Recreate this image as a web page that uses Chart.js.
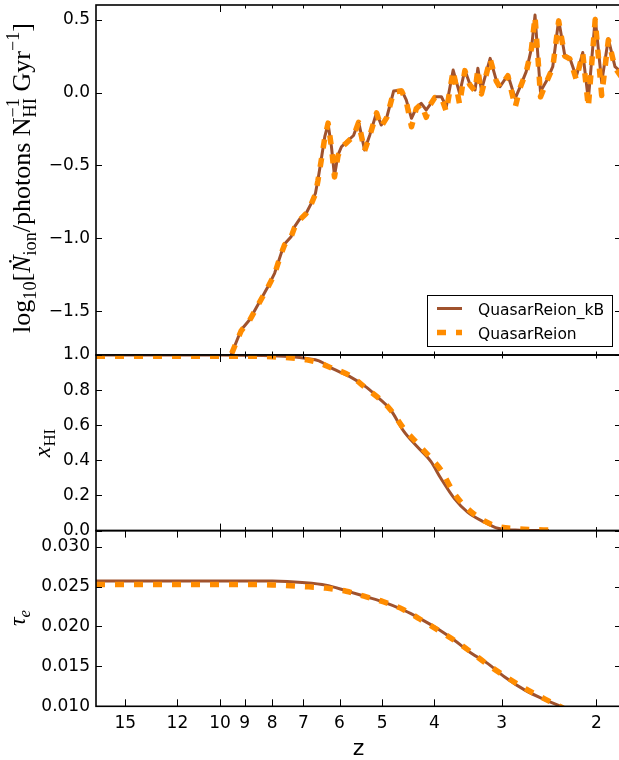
<!DOCTYPE html>
<html><head><meta charset="utf-8">
<script src="https://cdn.jsdelivr.net/npm/chart.js@4.4.1/dist/chart.umd.min.js"></script>
<style>
html,body{margin:0;padding:0;background:#fff;overflow:hidden;}
#wrap{position:relative;width:619px;height:760px;overflow:hidden;background:#fff;}
canvas{position:absolute;left:0;top:0;}
</style></head><body>
<div id="wrap">
<canvas id="c1" width="625" height="760"></canvas>
<canvas id="c2" width="625" height="760"></canvas>
<canvas id="c3" width="625" height="760"></canvas>
</div>
<script>
// ---------------- data ----------------
const seriesNames = ['QuasarReion_kB', 'QuasarReion'];
const zTickLabels = [15, 12, 10, 9, 8, 7, 6, 5, 4, 3, 2];
const zLogMajor = [10];
const zLogMinor = [9, 8, 7, 6, 5, 4, 3, 2];
const nionTicks = [-1.5, -1.0, -0.5, 0.0, 0.5];
const xhiTicks = [0.0, 0.2, 0.4, 0.6, 0.8, 1.0];
const tauTicks = [0.010, 0.015, 0.020, 0.025, 0.030];

const zNion = [9.8, 9.54, 9.14, 8.82, 8.51, 8.15, 7.92, 7.70, 7.59, 7.38,
  7.27, 7.12, 6.92, 6.77, 6.65, 6.58, 6.49, 6.39, 6.30, 6.21,
  6.13, 6.04, 5.95, 5.82, 5.65, 5.53, 5.39, 5.27, 5.12, 5.02,
  4.90, 4.76, 4.60, 4.51, 4.41, 4.32, 4.23, 4.14, 4.08, 3.99,
  3.88, 3.80, 3.69, 3.59, 3.51, 3.44, 3.36, 3.32, 3.27, 3.15,
  3.07, 3.02, 2.92, 2.83, 2.77, 2.70, 2.64, 2.60, 2.56, 2.54,
  2.47, 2.41, 2.35, 2.29, 2.24, 2.18, 2.12, 2.07, 2.01, 1.955,
  1.90, 1.847, 1.80];
const nionKB = [-1.91, -1.80, -1.629, -1.560, -1.457, -1.332, -1.240, -1.103, -1.039, -0.989,
  -0.920, -0.870, -0.828, -0.760, -0.691, -0.600, -0.463, -0.303, -0.216, -0.372,
  -0.573, -0.429, -0.372, -0.339, -0.295, -0.200, -0.394, -0.291, -0.137, -0.223,
  -0.168, 0.010, 0.017, -0.051, -0.177, -0.106, -0.074, -0.120, -0.086, -0.029,
  -0.029, -0.097, 0.154, -0.006, 0.154, 0.063, 0.017, 0.166, 0.017, 0.234,
  0.086, 0.040, 0.120, -0.040, 0.040, 0.143, 0.303, 0.531, 0.177, 0.006,
  0.086, 0.177, 0.497, 0.257, 0.235, 0.108, 0.274, -0.051, 0.509, 0.070,
  0.368, 0.177, 0.141];
const nionQR = [-1.91, -1.80, -1.635, -1.565, -1.460, -1.335, -1.245, -1.105, -1.045, -0.990,
  -0.925, -0.875, -0.830, -0.765, -0.695, -0.605, -0.470, -0.310, -0.210, -0.375,
  -0.580, -0.435, -0.375, -0.345, -0.300, -0.205, -0.400, -0.295, -0.140, -0.235,
  -0.170, 0.005, 0.010, -0.060, -0.235, -0.110, -0.080, -0.170, -0.090, -0.035,
  -0.035, -0.130, 0.150, -0.080, 0.150, 0.055, 0.010, 0.160, -0.010, 0.230,
  0.080, 0.035, 0.115, -0.100, 0.035, 0.140, 0.300, 0.520, 0.170, -0.030,
  0.080, 0.170, 0.490, 0.250, 0.230, 0.090, 0.270, -0.100, 0.500, -0.020,
  0.360, 0.170, 0.110];

const zXHI = [17, 12, 10, 9, 8, 7.35, 6.9, 6.55, 6.18, 5.75,
  5.35, 5.05, 4.83, 4.56, 4.31, 4.06, 3.89, 3.67, 3.47, 3.23,
  3.05, 2.83, 2.65, 2.45];
const xhiKB = [1.0, 1.0, 1.0, 0.999, 0.996, 0.99, 0.98, 0.967, 0.922, 0.878,
  0.817, 0.749, 0.691, 0.567, 0.48, 0.394, 0.298, 0.182, 0.105, 0.048,
  0.013, 0.003, 0.001, 0.0];
const xhiQR = [0.993, 0.993, 0.993, 0.993, 0.99, 0.983, 0.972, 0.955, 0.924, 0.884,
  0.81, 0.749, 0.69, 0.582, 0.50, 0.413, 0.346, 0.21, 0.125, 0.055,
  0.024, 0.011, 0.006, 0.003];

const zTau = [17, 12, 10, 9, 8, 7.04, 6.36, 5.83, 5.35, 4.98,
  4.56, 4.25, 3.95, 3.67, 3.42, 3.18, 2.96, 2.71, 2.49, 2.31, 2.2];
const tauKB = [0.0257, 0.0257, 0.0257, 0.0257, 0.02568, 0.0255, 0.02517, 0.02446, 0.02371, 0.02308,
  0.02204, 0.02098, 0.01973, 0.01826, 0.01668, 0.01534, 0.01366, 0.01199, 0.01081, 0.0099, 0.0092];
const tauQR = [0.02525, 0.02525, 0.02525, 0.02525, 0.0252, 0.0250, 0.0248, 0.0244, 0.0237, 0.0231,
  0.0221, 0.0209, 0.0196, 0.01826, 0.0168, 0.0152, 0.0138, 0.0122, 0.0109, 0.0098, 0.0091];

// ---------------- styling ----------------
const BROWN = '#a0522d', ORANGE = '#ff8c00';
const TICKFONT = {family: 'DejaVu Sans', size: 17};
const CANVAS_H = 760;

function fmtFixed(d) {
  return v => v.toFixed(d).replace('-', '\u2212');
}

const frameTicks = {
  id: 'frameTicks',
  afterDatasetsDraw(chart, args, o) {
    const {ctx, chartArea: a, scales} = chart;
    const x = scales.x, y = scales.y;
    ctx.save();
    ctx.strokeStyle = '#000';
    ctx.lineWidth = 1;
    ctx.beginPath();
    for (const v of o.yTicks) {
      const py = Math.round(y.getPixelForValue(v)) + 0.5;
      ctx.moveTo(a.left, py); ctx.lineTo(a.left + 6, py);
      ctx.moveTo(a.right, py); ctx.lineTo(a.right - 6, py);
    }
    const xt = (vals, len) => {
      for (const v of vals) {
        const px = Math.round(x.getPixelForValue(v)) + 0.5;
        ctx.moveTo(px, a.top); ctx.lineTo(px, a.top + len);
        ctx.moveTo(px, a.bottom); ctx.lineTo(px, a.bottom - len);
      }
    };
    xt(o.xMajor, 7);
    xt(o.xMinor, 3.5);
    ctx.stroke();
    ctx.lineWidth = 1.6;
    ctx.strokeRect(a.left, a.top, a.right - a.left, a.bottom - a.top);
    ctx.restore();
  }
};

function drawRich(ctx, parts, bx, cy, size, family) {
  const fontFor = (p, s) => (p.it ? 'italic ' : '') + s + 'px "' + family + '"';
  const items = [];
  let W = 0;
  for (const p of parts) {
    if (p.stack) {
      const s = size * 0.7;
      let w = 0;
      for (const q of p.stack) { ctx.font = fontFor(q, s); w = Math.max(w, ctx.measureText(q.t).width); }
      items.push({stack: p.stack, x: W, s});
      W += w;
    } else {
      const s = (p.sub || p.sup) ? size * 0.7 : size;
      ctx.font = fontFor(p, s);
      const w = ctx.measureText(p.t).width;
      items.push({p, x: W, s});
      W += w;
    }
  }
  ctx.save();
  ctx.translate(bx, cy);
  ctx.rotate(-Math.PI / 2);
  ctx.fillStyle = '#000';
  ctx.textBaseline = 'alphabetic';
  ctx.textAlign = 'left';
  const x0 = -W / 2;
  for (const it of items) {
    if (it.stack) {
      ctx.font = fontFor(it.stack[0], it.s); ctx.fillText(it.stack[0].t, x0 + it.x, -size * 0.42);
      ctx.font = fontFor(it.stack[1], it.s); ctx.fillText(it.stack[1].t, x0 + it.x, size * 0.22);
    } else {
      const dy = it.p.sub ? size * 0.22 : (it.p.sup ? -size * 0.42 : 0);
      ctx.font = fontFor(it.p, it.s);
      ctx.fillText(it.p.t, x0 + it.x, dy);
    }
  }
  ctx.restore();
}

const yTitle = {
  id: 'yTitle',
  afterDraw(chart, args, o) {
    drawRich(chart.ctx, o.parts, o.x, o.y, o.size, o.family);
  }
};

const legendBox = {
  id: 'legendBox',
  afterDraw(chart, args, o) {
    if (!o.show) return;
    const ctx = chart.ctx;
    ctx.save();
    ctx.fillStyle = '#fff';
    ctx.fillRect(427.5, 295.5, 185, 51);
    ctx.strokeStyle = '#000';
    ctx.lineWidth = 1;
    ctx.strokeRect(427.5, 295.5, 185, 51);
    const ds = chart.data.datasets;
    const rows = [{d: ds[0], y: 308.5}, {d: ds[1], y: 332.5}];
    for (const r of rows) {
      ctx.beginPath();
      ctx.strokeStyle = r.d.borderColor;
      ctx.lineWidth = r.d.borderWidth;
      ctx.setLineDash(r.d.borderDash || []);
      ctx.lineCap = 'butt';
      ctx.moveTo(437, r.y); ctx.lineTo(462, r.y);
      ctx.stroke();
      ctx.setLineDash([]);
      ctx.fillStyle = '#000';
      ctx.font = '15.5px "DejaVu Sans"';
      ctx.textBaseline = 'alphabetic';
      ctx.fillText(r.d.label, 478, r.y + 6);
    }
    ctx.restore();
  }
};

function makePanel(id, cfg) {
  const mk = (arr) => cfg.z.map((z, i) => ({x: z, y: arr[i]}));
  const common = {pointRadius: 0, fill: false, clip: 0,
    cubicInterpolationMode: cfg.smooth ? 'monotone' : 'default', tension: 0,
    borderJoinStyle: 'round'};
  return new Chart(document.getElementById(id), {
    type: 'line',
    data: {
      datasets: [
        Object.assign({label: seriesNames[0], data: mk(cfg.kb), borderColor: BROWN, borderWidth: 3, order: 2}, common),
        Object.assign({label: seriesNames[1], data: mk(cfg.qr), borderColor: ORANGE, borderWidth: 5.5,
          borderDash: [9, 10], borderCapStyle: 'butt', order: 1}, common)
      ]
    },
    options: {
      responsive: false, animation: false, devicePixelRatio: 1,
      layout: {padding: {top: cfg.top, bottom: CANVAS_H - cfg.bottom - (cfg.showX ? 53.7 : 0), left: 0, right: 4}},
      plugins: {
        legend: {display: false}, tooltip: {enabled: false},
        frameTicks: {yTicks: cfg.yTicks, xMajor: cfg.xMajor, xMinor: cfg.xMinor},
        yTitle: cfg.title,
        legendBox: {show: !!cfg.legend}
      },
      scales: {
        x: {
          type: 'logarithmic', reverse: true, min: 1.8, max: 17,
          display: cfg.showX,
          grid: {display: false, drawTicks: false}, border: {display: false},
          afterBuildTicks: s => { s.ticks = zTickLabels.map(v => ({value: v})); },
          afterFit: s => { if (cfg.showX) s.height = 53.7; s.paddingLeft = 0; s.paddingRight = 0; },
          ticks: {autoSkip: false, maxRotation: 0, minRotation: 0, padding: 7, color: '#000', font: TICKFONT,
            callback: v => String(v)},
          title: {display: cfg.showX, text: 'z', color: '#000', font: {family: 'DejaVu Sans', size: 22, lineHeight: 1.0},
            padding: {top: 0, bottom: 0}}
        },
        y: {
          min: cfg.yMin, max: cfg.yMax,
          grid: {display: false, drawTicks: false}, border: {display: false},
          afterBuildTicks: s => { s.ticks = cfg.yTicks.map(v => ({value: v})); },
          afterFit: s => { s.width = 96; s.paddingTop = 0; s.paddingBottom = 0; },
          ticks: {padding: 6, color: '#000', font: TICKFONT, callback: cfg.fmt}
        }
      }
    },
    plugins: [frameTicks, yTitle, legendBox]
  });
}

const serif = 'Liberation Serif';
makePanel('c1', {
  z: zNion, kb: nionKB, qr: nionQR, yMin: -1.8, yMax: 0.6, yTicks: nionTicks, fmt: fmtFixed(1),
  top: 5, bottom: 355, showX: false, xMajor: zLogMajor, xMinor: zLogMinor, legend: true, smooth: false,
  title: {x: 30, y: 178, size: 26, family: serif, parts: [
    {t: 'log'}, {t: '10', sub: true}, {t: '['}, {t: '\u1E44', it: true}, {t: 'ion', sub: true},
    {t: '/photons N'}, {stack: [{t: '\u22121'}, {t: 'HI'}]}, {t: ' Gyr'}, {t: '\u22121', sup: true}, {t: ']'}
  ]}
});
makePanel('c2', {
  z: zXHI, kb: xhiKB, qr: xhiQR, yMin: 0, yMax: 1, yTicks: xhiTicks, fmt: fmtFixed(1),
  top: 355, bottom: 530.6, showX: false, xMajor: zLogMajor, xMinor: zLogMinor, smooth: true,
  title: {x: 50, y: 443, size: 24, family: serif, parts: [{t: 'x', it: true}, {t: 'HI', sub: true}]}
});
makePanel('c3', {
  z: zTau, kb: tauKB, qr: tauQR, yMin: 0.010, yMax: 0.032, yTicks: tauTicks, fmt: fmtFixed(3),
  top: 530.6, bottom: 706.3, showX: true, xMajor: zTickLabels, xMinor: [], smooth: true,
  title: {x: 25, y: 618, size: 24, family: serif, parts: [{t: '\u03C4', it: true}, {t: 'e', it: true, sub: true}]}
});
</script>
</body></html>
